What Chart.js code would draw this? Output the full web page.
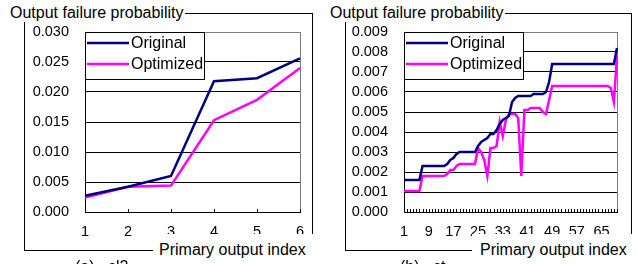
<!DOCTYPE html>
<html><head><meta charset="utf-8">
<script src="https://cdn.jsdelivr.net/npm/chart.js@4/dist/chart.umd.min.js"></script>
<style>
html,body{margin:0;padding:0;background:#fff;width:637px;height:264px;overflow:hidden;font-family:"Liberation Sans",Arial,sans-serif;color:#000;}
canvas{position:absolute;top:0;}
.frame{position:absolute;border:1px solid #000;box-sizing:border-box;}
.ttl{position:absolute;background:#fff;font-size:16px;line-height:18px;white-space:nowrap;}
.cap{position:absolute;font-size:16px;line-height:18px;white-space:nowrap;}
</style></head><body>

<div class="frame" style="left:24px;top:13px;width:289px;height:238px;"></div>
<div class="frame" style="left:345px;top:13px;width:287px;height:238px;"></div>

<canvas id="cA" width="318" height="264" style="left:0;width:318px;height:264px;"></canvas>
<canvas id="cB" width="319" height="264" style="left:318px;width:319px;height:264px;"></canvas>

<div class="ttl" style="left:8px;top:4px;padding:0 2px;">Output failure probability</div>
<div class="ttl" style="left:328px;top:4px;padding:0 2px;">Output failure probability</div>
<div class="ttl" style="left:153px;top:234px;width:167px;height:30px;padding:7px 0 0 6px;box-sizing:border-box;">Primary output index</div>
<div class="ttl" style="left:472px;top:234px;width:165px;height:30px;padding:7px 0 0 8px;box-sizing:border-box;">Primary output index</div>
<div class="cap" style="left:75px;top:258px;">(a)&nbsp;&nbsp; cl2</div>
<div class="cap" style="left:400px;top:258px;">(b)&nbsp;&nbsp; ct</div>

<script>
// ---------- data ----------
const categoriesA = ['1','2','3','4','5','6'];
const originalA  = [0.0027, 0.0042, 0.0060, 0.0218, 0.0223, 0.0256];
const optimizedA = [0.0024, 0.0042, 0.0044, 0.0153, 0.0187, 0.0240];
const yTicksA = ['0.000','0.005','0.010','0.015','0.020','0.025','0.030'];

const categoriesB = ['1','2','3','4','5','6','7','8','9','10','11','12','13','14','15','16','17','18','19','20',
 '21','22','23','24','25','26','27','28','29','30','31','32','33','34','35','36','37','38','39','40',
 '41','42','43','44','45','46','47','48','49','50','51','52','53','54','55','56','57','58','59','60',
 '61','62','63','64','65','66','67','68','69','70'];
const originalB = [
 0.0016,0.0016,0.0016,0.0016,0.0016,0.0016,
 0.0023,0.0023,0.0023,0.0023,0.0023,0.0023,0.0023,0.0023,
 0.0024,0.0026,0.0027,0.0029,
 0.0030,0.0030,0.0030,0.0030,0.0030,0.0030,
 0.0033,0.0035,0.0036,0.0037,0.0039,0.0039,0.0041,0.0044,0.0046,0.0047,0.0048,0.0055,0.0057,0.0058,
 0.0058,0.0058,0.0058,0.0058,0.0059,0.0059,0.0059,0.0059,
 0.0060,0.0065,
 0.0074,0.0074,0.0074,0.0074,0.0074,0.0074,0.0074,0.0074,0.0074,0.0074,0.0074,
 0.0074,0.0074,0.0074,0.0074,0.0074,0.0074,0.0074,0.0074,0.0074,0.0074,
 0.0082];
const optimizedB = [
 0.00105,0.00105,0.00105,0.00105,0.00105,0.00105,
 0.0018,0.0018,0.0018,0.0018,0.0018,0.0018,0.0018,0.0018,
 0.0019,0.0021,0.0021,0.0023,
 0.0024,0.0024,0.0024,0.0024,0.0024,0.0024,
 0.0032,0.0030,0.0026,0.0018,0.0032,0.0032,0.0033,0.0045,0.0038,0.0046,0.0049,0.0049,0.0049,0.0047,0.0018,0.0051,
 0.0051,0.0052,0.0052,0.0052,0.0052,0.0050,
 0.0049,0.0056,0.0063,
 0.0063,0.0063,0.0063,0.0063,0.0063,0.0063,0.0063,0.0063,0.0063,
 0.0063,0.0063,0.0063,0.0063,0.0063,0.0063,0.0063,0.0063,0.0063,
 0.0062,0.0055,0.0078];
const yTicksB = ['0.000','0.001','0.002','0.003','0.004','0.005','0.006','0.007','0.008','0.009'];
const xLabelStepB = 8;
const seriesNames = ['Original','Optimized'];
const seriesColors = ['#000080','#FF00FF'];

// ---------- drawing ----------
const FONT = '"Liberation Sans", Arial, sans-serif';

const framePlugin = {
  id: 'excelFrame',
  beforeDatasetsDraw(chart) {
    const {ctx, chartArea: a, scales} = chart;
    ctx.save();
    ctx.lineWidth = 1;
    ctx.strokeStyle = '#808080';
    ctx.strokeRect(Math.round(a.left) + 0.5, Math.round(a.top) + 0.5, Math.round(a.right - a.left), Math.round(a.bottom - a.top));
    ctx.strokeStyle = '#000';
    ctx.beginPath();
    ctx.moveTo(Math.round(a.left) + 0.5, Math.round(a.top));
    ctx.lineTo(Math.round(a.left) + 0.5, Math.round(a.bottom) + 1);
    ctx.moveTo(Math.round(a.left), Math.round(a.bottom) + 0.5);
    ctx.lineTo(Math.round(a.right) + 1, Math.round(a.bottom) + 0.5);
    const xs = scales.x;
    for (let i = 0; i < xs.ticks.length; i++) {
      const px = Math.round(xs.getPixelForTick(i)) + 0.5;
      ctx.moveTo(px, Math.round(a.bottom));
      ctx.lineTo(px, Math.round(a.bottom) - 3);
    }
    ctx.stroke();
    ctx.restore();
  },
  afterDraw(chart) {
    const {ctx, chartArea: a} = chart;
    const x = Math.round(a.left), y = Math.round(a.top);
    const w = 119, h = 47;
    ctx.save();
    ctx.fillStyle = '#fff';
    ctx.fillRect(x, y, w, h);
    ctx.strokeStyle = '#000';
    ctx.lineWidth = 1;
    ctx.strokeRect(x + 0.5, y + 0.5, w, h);
    ctx.font = '16px ' + FONT;
    ctx.textBaseline = 'middle';
    ctx.fillStyle = '#000';
    chart.data.datasets.forEach((ds, i) => {
      const ly = y + 11 + i * 21;
      ctx.strokeStyle = ds.borderColor;
      ctx.lineWidth = 2.5;
      ctx.beginPath();
      ctx.moveTo(x + 2, ly);
      ctx.lineTo(x + 44, ly);
      ctx.stroke();
      ctx.fillText(ds.label, x + 46, ly + 1);
    });
    ctx.restore();
  }
};

function makeChart(id, labels, orig, opt, yTickLabels, xStep, padL, padR) {
  const yMax = parseFloat(yTickLabels[yTickLabels.length - 1]);
  const yStep = parseFloat(yTickLabels[1]);
  return new Chart(document.getElementById(id), {
    type: 'line',
    data: {
      labels: labels,
      datasets: [
        {label: seriesNames[0], data: orig, borderColor: seriesColors[0], borderWidth: 2.5, pointRadius: 0, tension: 0, fill: false},
        {label: seriesNames[1], data: opt, borderColor: seriesColors[1], borderWidth: 2.5, pointRadius: 0, tension: 0, fill: false}
      ]
    },
    options: {
      responsive: false, animation: false, devicePixelRatio: 1,
      layout: {padding: {left: padL, right: padR, top: 32, bottom: 22}},
      plugins: {legend: {display: false}, tooltip: {enabled: false}},
      scales: {
        x: {
          type: 'category', offset: false,
          grid: {display: false, drawTicks: false},
          border: {display: false},
          ticks: {
            autoSkip: false, maxRotation: 0, minRotation: 0, padding: 11, color: '#000',
            font: {family: FONT, size: 14.5},
            callback: function(v, i) { return (i % xStep === 0) ? this.getLabelForValue(v) : ''; }
          },
          afterFit: s => { s.height = 30; }
        },
        y: {
          min: 0, max: yMax,
          grid: {drawTicks: false, lineWidth: 1,
                 color: c => (c.tick && Math.abs(c.tick.value - yMax) < 1e-9) ? '#808080' : '#000'},
          border: {display: false},
          ticks: {
            autoSkip: false, stepSize: yStep, padding: 16, color: '#000',
            font: {family: FONT, size: 14.5},
            callback: v => v.toFixed(3)
          },
          afterFit: s => { s.width = 70; }
        }
      }
    },
    plugins: [framePlugin]
  });
}

makeChart('cA', categoriesA, originalA, optimizedA, yTicksA, 1, 15, 18);
makeChart('cB', categoriesB, originalB, optimizedB, yTicksB, xLabelStepB, 16, 20);
</script>
</body></html>
